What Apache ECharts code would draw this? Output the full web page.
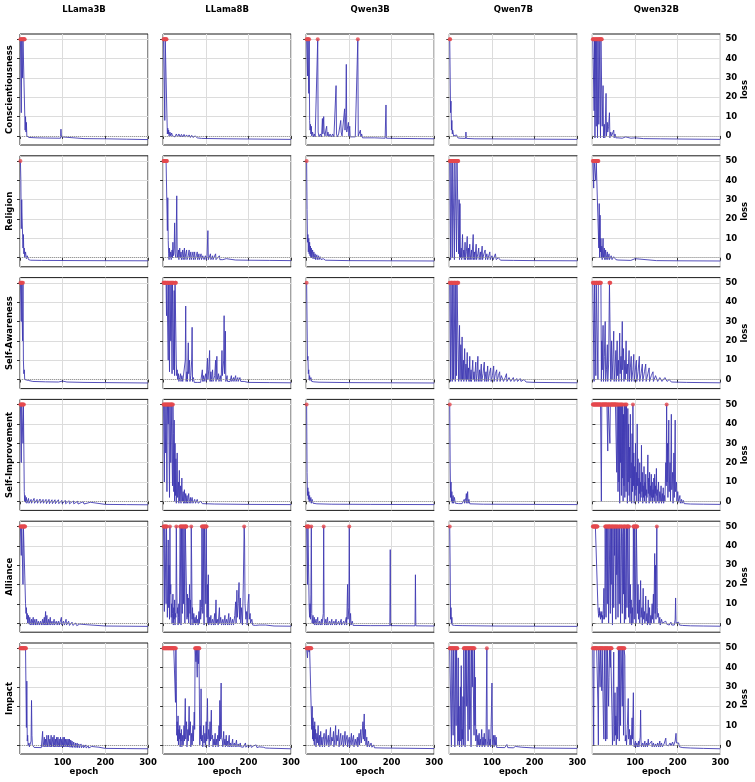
<!DOCTYPE html>
<html><head><meta charset="utf-8">
<script src="https://cdn.jsdelivr.net/npm/echarts@6/dist/echarts.min.js"></script>
<style>html,body{margin:0;padding:0;background:#fff}#c{width:755px;height:782px}</style>
</head><body><div id="c"></div>
<script>
const models = ['LLama3B','LLama8B','Qwen3B','Qwen7B','Qwen32B'];
const traits = ['Conscientiousness','Religion','Self-Awareness','Self-Improvement','Alliance','Impact'];
const yTicks = [0,10,20,30,40,50];
const CLIP = 50;

// ---- Conscientiousness ----
const consc_llama3b = [[1,50],[2,50],[3,12],[4,50],[5,50],[6,30],[7,50],[8,50],[9,50],[10,50],[11,50],[12,3],[13,10],[14,2],[15,7],[16,0],[18,-0.5],[21,-0.8],[40,-1],[60,-1.1],[95,-1.2],[96,3.5],[97,-0.5],[98,-1.2],[150,-1.4],[200,-1.5],[250,-1.7],[300,-1.9]];
const consc_llama8b = [[1,50],[2,50],[3,50],[4,8],[5,50],[6,50],[7,50],[8,50],[9,10],[10,1],[11,4],[12,1],[13,3],[14,0],[16,2],[18,0],[20,1.5],[22,0],[25,1],[28,-0.5],[31,1],[34,-0.5],[37,1],[40,-0.5],[43,0.8],[46,-0.5],[49,0.8],[52,-0.6],[55,0.5],[58,-0.6],[61,0.5],[64,-0.8],[67,0.3],[70,-0.8],[75,0],[80,-1],[90,-1.3],[150,-1.5],[300,-1.8]];
const consc_qwen3b = [[1,50],[2,50],[3,31],[4,50],[5,50],[6,22],[7,50],[8,8],[9,3],[10,6],[11,1],[12,5],[13,0],[15,2],[17,-0.5],[19,1],[21,-0.5],[23,0],[25,-0.5],[27,50],[28,2],[30,-0.5],[33,1],[36,-0.5],[38,9],[39,1],[41,10],[42,2],[44,0],[46,3],[48,5],[49,0],[51,2],[53,-0.5],[56,1],[59,-0.5],[62,1],[65,-0.5],[68,0],[70,26],[71,1],[73,-0.5],[76,1],[79,0],[81,8],[82,2],[84,0],[86,1],[88,0],[90,14],[91,3],[93,12],[94,37],[95,2],[97,1],[99,7],[100,0],[102,5],[103,-0.5],[106,0],[110,-0.5],[115,-0.5],[121,50],[122,0],[124,-0.5],[127,3],[128,-0.5],[130,1],[132,-1],[140,-1],[160,-1],[185,-1.2],[187,16],[188,-1.2],[220,-1.3],[260,-1.4],[300,-1.5]];
const consc_qwen7b = [[1,50],[2,50],[3,12],[4,18],[5,3],[6,8],[7,1],[8,3],[10,0],[12,1],[14,-0.5],[17,0.5],[20,-1],[25,-1.2],[38,-1.3],[39,2],[40,-1.3],[60,-1.5],[150,-1.6],[300,-1.8]];
const consc_qwen32b = [[1,50],[2,50],[3,50],[4,13],[5,50],[6,-1],[7,50],[8,50],[9,5],[10,50],[11,50],[12,-1],[13,50],[14,50],[15,6],[16,50],[17,50],[18,50],[19,-1],[20,50],[21,50],[22,50],[23,5],[24,6],[25,26],[26,-1],[27,2],[28,6],[29,-1],[30,3],[32,22],[33,0],[35,7],[36,2],[38,5],[40,12],[41,-1],[43,2],[45,0],[48,-0.5],[50,3],[51,-1],[53,1],[55,-1],[60,-1],[70,-1.2],[78,-0.5],[80,0],[82,-1],[90,-1.2],[100,-1],[120,-1.4],[160,-1.5],[200,-1.6],[300,-1.8]];

// ---- Religion ----
const relig_llama3b = [[1,50],[2,40],[3,15],[4,30],[5,20],[6,21],[7,5],[8,12],[9,2],[10,5],[11,0],[13,3],[15,-0.5],[17,1],[20,-1],[25,-1.3],[50,-1.4],[150,-1.5],[300,-1.6]];
const relig_llama8b = [[1,50],[2,50],[3,50],[4,50],[5,50],[6,50],[7,50],[8,50],[9,50],[10,14],[11,31],[12,9],[13,2],[14,-1],[15,5],[16,0],[18,3],[19,-1],[21,4],[22,0],[23,8],[24,1],[26,5],[27,18],[28,2],[30,0],[32,32],[33,3],[34,0],[36,4],[37,-1],[39,5],[40,0],[42,3],[43,-1],[46,4],[47,-1],[50,5],[51,-1],[53,2],[55,4],[56,-1],[59,1],[61,4],[62,-1],[65,3],[66,-1],[68,1],[70,3],[71,-1],[74,3],[75,-1],[78,1],[80,3],[81,-1],[84,2],[85,-1],[89,2],[90,-1],[93,1],[95,2],[96,-1],[99,1],[101,-1],[103,1],[105,14],[106,-1],[108,0],[111,2],[112,-1],[116,1],[117,-1],[121,0],[123,2],[124,-1],[128,0],[132,1],[133,-1],[137,0],[140,-1],[148,-0.5],[150,-1],[170,-1.2],[200,-1.3],[250,-1.4],[300,-1.5]];
const relig_qwen3b = [[1,50],[2,25],[3,8],[4,12],[5,3],[6,10],[7,2],[8,8],[9,1],[10,6],[11,0],[12,5],[13,0],[15,4],[16,-0.5],[18,3],[19,-0.5],[21,2],[22,-1],[25,1.5],[26,-1],[29,1],[30,-1],[33,0.5],[35,-1],[40,-0.5],[45,-1.3],[100,-1.5],[200,-1.6],[300,-1.7]];
const relig_qwen7b = [[1,50],[2,50],[3,-1],[4,50],[5,50],[6,50],[7,0],[8,50],[9,50],[10,50],[11,50],[12,-1],[13,50],[14,50],[15,50],[16,50],[17,3],[18,50],[19,50],[20,50],[21,50],[22,2],[23,30],[24,-1],[25,28],[26,0],[28,5],[29,-1],[31,12],[32,0],[34,4],[35,-1],[37,8],[38,-1],[40,3],[42,11],[43,-1],[45,5],[46,-1],[48,7],[49,-1],[52,4],[53,-1],[56,12],[57,-1],[59,3],[60,-1],[63,7],[64,-1],[67,2],[69,5],[70,-1],[73,3],[74,-1],[77,6],[78,-1],[81,2],[84,4],[85,-1],[88,2],[90,-1],[95,3],[96,-1],[100,1],[103,-1],[108,2],[110,-1],[115,0],[120,-1.3],[150,-1.4],[200,-1.5],[300,-1.6]];
const relig_qwen32b = [[1,50],[2,50],[3,36],[4,50],[5,50],[6,50],[7,50],[8,40],[9,50],[10,50],[11,50],[12,50],[13,50],[14,50],[15,5],[16,28],[17,0],[18,22],[19,3],[20,10],[21,0],[22,6],[23,-1],[25,10],[26,0],[28,5],[29,-1],[31,4],[32,-1],[35,3],[36,-1],[39,2],[40,-1],[44,1],[46,-1],[50,0.5],[55,-1],[60,-1.2],[90,-1.4],[100,-0.5],[102,-1.4],[150,-1.5],[200,-1.6],[300,-1.7]];

// ---- Self-Awareness ----
const aware_llama3b = [[1,50],[2,50],[3,30],[4,50],[5,50],[6,20],[7,50],[8,10],[9,3],[10,5],[11,0],[13,1],[15,-0.5],[20,-0.5],[30,-1],[60,-1.2],[90,-1.3],[100,-0.8],[110,-1.3],[150,-1.5],[200,-1.6],[300,-1.8]];
const aware_llama8b = [[1,50],[2,50],[3,50],[4,50],[5,50],[6,50],[7,50],[8,33],[9,50],[10,50],[11,50],[12,10],[13,50],[14,50],[15,4],[16,50],[17,50],[18,20],[19,50],[20,50],[21,3],[22,50],[23,50],[24,50],[25,5],[26,46],[27,2],[28,50],[29,50],[30,50],[31,8],[32,2],[33,5],[34,0],[36,3],[37,-1],[39,1],[41,3],[42,-1],[44,2],[46,-1],[48,0],[50,-1],[52,10],[53,38],[54,-1],[56,4],[57,-1],[59,19],[60,3],[62,10],[63,-1],[65,2],[67,10],[68,27],[69,-1],[71,1],[73,-1.5],[80,-1.5],[88,-1.5],[92,5],[93,-1],[95,2],[96,-1],[100,3],[101,-1],[104,11],[105,0],[107,5],[109,15],[110,-1],[112,4],[113,-1],[116,5],[117,-1],[121,2],[123,10],[124,-1],[126,12],[127,0],[130,3],[131,-1],[134,2],[136,-1],[138,15],[139,2],[142,10],[143,33],[144,3],[146,25],[147,-1],[150,2],[151,-1],[154,0],[157,-1],[160,2],[161,-1],[165,1],[166,-1],[170,2],[171,-1],[175,1],[176,-1],[180,1],[182,-1],[186,0],[190,-1],[200,-1.5],[250,-1.6],[300,-1.7]];
const aware_qwen3b = [[1,50],[2,30],[3,10],[4,12],[5,3],[6,5],[7,0],[8,2],[9,-0.5],[11,1],[13,-1],[15,0],[18,-1.2],[30,-1.4],[100,-1.6],[200,-1.7],[300,-1.8]];
const aware_qwen7b = [[1,50],[2,50],[3,-1],[4,50],[5,50],[6,50],[7,-1],[8,50],[9,50],[10,0],[11,50],[12,50],[13,50],[14,-1],[15,50],[16,50],[17,2],[18,50],[19,50],[20,50],[21,50],[22,-1],[24,28],[25,0],[27,18],[28,-1],[30,22],[31,0],[33,10],[34,-1],[36,16],[37,0],[39,8],[40,-1],[42,14],[43,0],[45,6],[46,-1],[48,12],[49,-1],[51,5],[52,-1],[55,10],[56,0],[58,4],[59,-1],[62,9],[63,-1],[65,3],[67,12],[68,-1],[71,5],[72,-1],[75,8],[76,-1],[79,3],[82,9],[83,-1],[86,4],[87,-1],[90,7],[91,-1],[94,3],[97,6],[98,-1],[101,2],[104,7],[105,-1],[108,3],[111,5],[112,-1],[115,2],[118,4],[119,-1],[122,2],[126,3],[127,-1],[131,1],[134,3],[135,-1],[140,1],[143,2],[144,-1],[150,1],[152,-1],[158,0.5],[160,-1],[166,0.5],[168,-1],[175,0],[180,-1.3],[200,-1.5],[250,-1.6],[300,-1.7]];
const aware_qwen32b = [[1,50],[2,50],[3,50],[4,-1],[5,50],[6,50],[7,50],[8,2],[9,50],[10,50],[11,50],[12,50],[13,0],[14,50],[15,50],[16,50],[17,50],[18,50],[19,50],[20,50],[21,-1],[22,20],[23,5],[25,28],[26,-1],[28,12],[30,30],[31,-1],[33,5],[35,18],[36,-1],[38,8],[40,50],[41,50],[42,50],[43,-1],[45,20],[46,0],[48,10],[50,25],[51,-1],[53,6],[55,15],[56,-1],[58,20],[59,2],[61,10],[62,-1],[64,24],[65,3],[67,12],[68,-1],[70,30],[71,5],[73,16],[74,-1],[76,10],[77,0],[79,20],[80,3],[82,8],[83,-1],[86,15],[87,-1],[89,6],[91,12],[92,-1],[95,5],[97,13],[98,-1],[101,6],[103,10],[104,-1],[107,4],[110,12],[111,-1],[114,3],[117,8],[118,-1],[122,4],[125,8],[126,-1],[130,3],[133,6],[134,-1],[138,2],[142,4],[143,-1],[148,2],[152,3],[153,-1],[158,1],[162,2],[163,-1],[170,1],[175,-1],[180,0],[185,-1.3],[220,-1.5],[300,-1.7]];

// ---- Self-Improvement ----
const improv_llama3b = [[1,50],[2,50],[3,20],[4,50],[5,50],[6,50],[7,30],[8,50],[9,50],[10,5],[11,0],[12,3],[13,-0.5],[15,2],[16,-1],[20,1.5],[21,-1],[26,1],[27,-1],[33,1.5],[34,-1],[40,1],[41,-1],[47,1.2],[48,-1],[54,1],[55,-1],[61,1],[62,-1.2],[68,1],[69,-1.2],[75,0.8],[76,-1.2],[82,0.8],[83,-1.2],[90,0.8],[91,-1.2],[98,0.5],[99,-1.3],[106,0.5],[107,-1.3],[115,0.3],[116,-1.3],[125,0.2],[126,-1.3],[135,0],[136,-1.4],[148,-0.2],[150,-1.4],[165,-0.5],[167,-1.5],[200,-1.6],[250,-1.7],[300,-1.8]];
const improv_llama8b = [[1,50],[2,50],[3,10],[4,50],[5,50],[6,25],[7,50],[8,50],[9,5],[10,50],[11,50],[12,40],[13,50],[14,50],[15,2],[16,50],[17,50],[18,20],[19,50],[20,50],[21,50],[22,8],[23,50],[24,35],[25,5],[26,42],[27,0],[28,30],[29,3],[30,22],[31,-1],[33,25],[34,2],[36,10],[37,-1],[38,16],[39,0],[41,8],[42,-1],[44,12],[45,0],[47,5],[48,-1],[50,6],[51,-1],[53,4],[54,-1],[56,3],[57,-1],[60,4],[61,-1],[64,2],[65,-1],[68,2],[70,-1],[74,1],[76,-1],[80,1],[82,-1],[88,0],[92,-1.2],[120,-1.4],[200,-1.6],[300,-1.7]];
const improv_qwen3b = [[1,50],[2,15],[3,3],[4,7],[5,1],[6,5],[7,0],[8,3],[9,-0.5],[11,2],[12,-1],[14,1],[16,-1],[20,-0.5],[25,-1.3],[60,-1.5],[150,-1.6],[300,-1.7]];
const improv_qwen7b = [[1,50],[2,20],[3,2],[4,10],[5,0],[6,5],[7,-1],[9,3],[10,-1],[12,2],[14,-1],[18,0],[22,-1.2],[30,-1.2],[35,1],[36,-1],[39,2],[40,4],[41,-1],[43,5],[44,-1],[46,1],[48,-1.3],[80,-1.5],[200,-1.6],[300,-1.7]];
const improv_qwen32b = [[1,50],[2,50],[3,50],[4,50],[5,50],[6,50],[7,50],[8,50],[9,50],[10,50],[11,50],[12,50],[13,50],[14,50],[15,50],[16,50],[17,50],[18,50],[19,50],[20,50],[21,0],[22,50],[23,50],[24,50],[25,50],[26,50],[27,50],[28,50],[29,50],[30,50],[31,50],[32,50],[33,50],[34,50],[35,50],[36,26],[37,50],[38,50],[39,50],[40,50],[41,30],[42,50],[43,50],[44,50],[45,50],[46,50],[47,50],[48,50],[49,50],[50,50],[51,50],[52,50],[53,50],[54,50],[55,50],[56,50],[57,15],[58,50],[59,50],[60,5],[61,50],[62,10],[63,50],[64,-1],[65,50],[66,20],[67,50],[68,3],[69,50],[70,12],[71,50],[72,0],[73,45],[74,8],[75,50],[76,2],[77,30],[78,50],[79,5],[80,50],[81,15],[82,-1],[83,48],[84,10],[85,40],[86,3],[87,28],[88,0],[89,45],[90,12],[91,20],[92,-1],[93,35],[94,5],[95,50],[96,8],[97,25],[98,-1],[99,18],[100,3],[101,30],[102,6],[103,15],[104,0],[105,40],[106,8],[107,22],[108,-1],[109,12],[110,4],[111,20],[112,0],[113,10],[114,2],[115,29],[116,5],[117,15],[118,-1],[119,8],[120,2],[121,18],[122,0],[123,10],[124,3],[125,14],[126,-1],[127,6],[128,2],[130,24],[131,4],[132,12],[133,-1],[134,15],[135,3],[136,8],[137,0],[138,14],[139,2],[140,10],[141,-1],[142,6],[143,2],[144,12],[145,0],[146,14],[147,4],[148,8],[149,-1],[150,17],[151,3],[152,6],[153,0],[155,10],[156,-1],[158,5],[159,0],[161,8],[162,-1],[164,4],[165,0],[166,7],[167,-1],[169,3],[170,0],[172,20],[173,8],[174,50],[175,10],[176,30],[177,2],[179,42],[180,5],[182,20],[183,0],[185,45],[186,6],[188,15],[189,-1],[191,25],[192,2],[194,42],[195,5],[197,10],[198,0],[200,5],[202,-0.5],[205,3],[206,-1],[209,1],[210,-1],[213,0.5],[215,-1.2],[230,-1.4],[260,-1.5],[300,-1.6]];

// ---- Alliance ----
const alli_llama3b = [[1,50],[2,50],[3,35],[4,50],[5,50],[6,50],[7,20],[8,50],[9,50],[10,50],[11,50],[12,50],[13,10],[14,5],[15,8],[16,2],[17,5],[18,0],[20,4],[21,-0.5],[23,3],[24,-1],[27,2],[28,-1],[31,3],[32,-1],[35,2],[36,-1],[39,2],[40,-1],[43,1],[45,-1],[48,1],[50,-1],[53,2],[54,-1],[57,3],[58,-1],[60,6],[61,-1],[63,4],[64,-1],[67,2],[68,-1],[71,3],[72,-1],[75,1],[77,-1],[80,2],[81,-1],[85,1],[87,-1],[90,1],[92,-1],[97,3],[98,-1],[102,1],[104,-1],[108,2],[109,-1],[114,1],[116,-1.2],[122,0.5],[124,-1.2],[130,0],[133,-1.3],[140,-0.5],[143,-1.3],[155,-0.8],[158,-1.4],[200,-1.5],[300,-1.7]];
const alli_llama8b = [[1,50],[2,50],[3,6],[4,50],[5,50],[6,50],[7,10],[8,50],[9,50],[10,3],[11,20],[12,43],[13,8],[14,30],[15,2],[16,50],[17,15],[18,20],[19,3],[20,10],[21,0],[22,5],[23,15],[24,-1],[25,8],[26,2],[27,12],[28,-1],[29,5],[30,3],[31,50],[32,20],[33,5],[34,8],[35,-1],[36,3],[37,10],[38,0],[40,50],[41,50],[42,-1],[43,50],[44,50],[45,5],[46,50],[47,50],[48,10],[49,50],[50,50],[51,0],[52,50],[53,50],[54,50],[55,50],[56,2],[57,15],[58,3],[59,13],[60,0],[62,20],[63,5],[64,12],[65,-1],[66,50],[67,30],[68,2],[69,8],[70,-1],[72,5],[73,0],[75,3],[76,-1],[78,4],[79,0],[81,2],[82,-1],[84,6],[85,0],[87,12],[88,2],[90,8],[91,50],[92,50],[93,5],[94,50],[95,50],[96,-1],[97,50],[98,50],[99,50],[100,10],[101,50],[102,50],[103,3],[104,20],[105,0],[106,25],[107,-1],[109,3],[110,0],[112,4],[113,-1],[116,2],[118,-1],[121,5],[122,-1],[124,12],[125,0],[127,2],[129,-1],[132,8],[133,0],[135,3],[137,-1],[140,2],[142,-1],[145,4],[146,-1],[149,2],[151,-1],[154,5],[155,-1],[158,3],[160,-1],[163,2],[165,-1],[168,4],[170,11],[171,0],[173,17],[174,3],[176,10],[178,21],[179,2],[181,13],[182,0],[184,8],[186,-1],[188,20],[190,50],[191,43],[192,10],[194,2],[196,6],[197,-1],[199,10],[201,15],[202,2],[204,5],[205,0],[208,2],[210,-1],[213,0],[216,-1.2],[225,-1],[228,-1.3],[240,-1],[243,-1.4],[260,-1.5],[300,-1.6]];
const alli_qwen3b = [[1,50],[2,50],[3,20],[4,50],[5,50],[6,50],[7,8],[8,3],[9,10],[10,2],[11,15],[12,50],[13,5],[14,0],[16,4],[17,-0.5],[19,3],[20,-1],[23,2],[24,-1],[27,3],[28,-1],[31,1],[33,-1],[36,2],[37,-1],[40,5],[41,50],[42,3],[43,-1],[46,2],[47,-1],[50,3],[51,-1],[55,1],[57,-1],[60,2],[61,-1],[65,1],[67,-1],[70,2],[71,-1],[76,1],[78,-1],[82,2],[83,-1],[88,1],[90,-1],[94,3],[95,-1],[97,20],[98,2],[100,8],[101,50],[102,0],[104,5],[105,-1],[108,1],[110,-1.2],[150,-1.3],[196,-1.3],[197,38],[198,-1.3],[255,-1.4],[256,25],[257,-1.4],[300,-1.5]];
const alli_qwen7b = [[1,50],[2,30],[3,2],[4,8],[5,-0.5],[6,3],[7,-1],[9,0],[12,-1.2],[30,-1.3],[100,-1.5],[200,-1.6],[300,-1.7]];
const alli_qwen32b = [[1,50],[2,50],[3,50],[4,50],[5,50],[6,50],[7,50],[8,50],[9,50],[10,50],[11,50],[12,50],[13,8],[14,5],[15,3],[16,8],[17,4],[18,6],[19,2],[20,5],[21,3],[22,6],[23,0],[24,4],[25,2],[26,10],[27,18],[28,2],[29,5],[30,50],[31,50],[32,3],[33,50],[34,50],[35,10],[36,50],[37,50],[38,0],[39,50],[40,50],[41,50],[42,5],[43,50],[44,20],[45,50],[46,50],[47,-1],[48,50],[49,50],[50,8],[51,50],[52,35],[53,50],[54,50],[55,2],[56,50],[57,25],[58,50],[59,50],[60,3],[61,30],[62,50],[63,10],[64,50],[65,50],[66,0],[67,40],[68,50],[69,50],[70,5],[71,45],[72,50],[73,15],[74,50],[75,0],[76,50],[77,50],[78,2],[79,30],[80,50],[81,8],[82,50],[83,50],[84,50],[85,3],[86,50],[87,10],[88,0],[89,20],[90,5],[91,12],[92,-1],[94,8],[95,0],[96,50],[97,50],[98,2],[99,50],[100,50],[101,50],[102,0],[103,50],[104,50],[105,50],[106,5],[107,20],[108,2],[110,12],[111,0],[113,22],[114,3],[116,8],[117,-1],[119,18],[120,2],[122,6],[123,0],[125,14],[126,1],[128,5],[129,-1],[131,12],[132,0],[134,8],[135,-1],[137,4],[138,0],[140,10],[141,2],[143,15],[144,0],[146,36],[147,5],[148,30],[149,2],[151,50],[152,8],[153,3],[155,5],[156,0],[158,3],[159,-1],[162,2],[164,0],[166,1],[168,-0.5],[172,1],[174,-0.5],[178,0.5],[180,-1],[184,0.5],[186,-1],[190,0],[192,-1],[194,2],[195,13],[196,0],[198,-1],[202,0.5],[204,-1],[208,0],[211,-1.2],[230,-1.4],[260,-1.5],[300,-1.6]];

// ---- Impact ----
const impact_llama3b = [[1,50],[2,50],[3,50],[4,50],[5,50],[6,50],[7,50],[8,50],[9,50],[10,50],[11,50],[12,50],[13,50],[14,50],[15,9],[16,33],[17,2],[18,5],[19,-0.5],[21,1],[22,-1],[24,0],[26,2],[27,23],[28,5],[29,0],[30,-1],[33,-1.3],[50,-1.4],[52,-1],[53,7],[54,-1],[56,2],[57,4],[58,-1],[60,3],[61,-1],[63,5],[64,-1],[66,2],[67,5],[68,-1],[70,3],[71,-1],[73,5],[74,-1],[76,2],[77,4],[78,-1],[80,5],[81,-1],[83,3],[84,-1],[86,4],[87,-1],[89,4],[90,-1],[92,3],[93,-1],[95,4],[96,-1],[98,3],[99,-1],[101,4],[102,-1],[104,4],[105,-1],[107,3],[108,-1],[110,3],[111,-1],[113,3],[114,-1],[116,3],[117,-1.2],[119,2.5],[120,-1.2],[122,2],[123,-1.3],[126,1.5],[127,-1.3],[130,1],[131,-1.4],[134,1],[135,-1.4],[138,0.5],[139,-1.5],[143,0.5],[144,-1.5],[148,0],[149,-1.5],[154,0],[155,-1.6],[160,-0.5],[161,-1.6],[168,-0.8],[169,-1.7],[176,-1],[177,-1.7],[185,-1.2],[186,-1.8],[200,-1.8],[250,-1.9],[300,-2]];
const impact_llama8b = [[1,50],[2,50],[3,50],[4,50],[5,50],[6,50],[7,50],[8,50],[9,50],[10,50],[11,50],[12,50],[13,50],[14,50],[15,50],[16,50],[17,50],[18,50],[19,50],[20,50],[21,50],[22,50],[23,50],[24,50],[25,50],[26,50],[27,50],[28,50],[29,22],[30,50],[31,33],[32,5],[33,12],[34,2],[35,15],[36,0],[37,8],[38,3],[39,10],[40,-1],[41,6],[42,2],[43,8],[44,-1],[46,5],[47,0],[49,10],[50,2],[52,24],[53,3],[55,12],[56,-1],[58,8],[59,2],[61,20],[62,5],[64,12],[65,-1],[67,6],[68,0],[70,10],[71,2],[73,17],[74,8],[75,50],[76,50],[77,43],[78,50],[79,50],[80,35],[81,50],[82,50],[83,42],[84,50],[85,50],[86,0],[87,10],[88,3],[89,29],[90,2],[92,5],[93,-1],[95,10],[96,1],[98,6],[99,-1],[101,12],[102,2],[104,24],[105,3],[107,8],[108,-1],[110,12],[111,2],[113,18],[114,3],[116,5],[117,-1],[119,3],[120,0],[122,6],[123,-1],[125,3],[126,0],[128,5],[129,-1],[131,10],[132,2],[133,23],[134,3],[136,32],[137,4],[139,2],[140,-1],[142,7],[143,0],[145,3],[146,-1],[148,5],[149,-0.5],[151,2],[152,-1],[155,5],[156,-1],[158,1],[160,-1],[163,3],[164,-1],[167,1],[169,-1],[172,2.5],[173,-1],[176,0.5],[178,-1],[181,1],[182,-1],[186,0],[188,-1.2],[193,1],[194,-1.2],[198,0],[200,-1.2],[205,0],[207,-1.3],[212,-0.5],[214,-1.4],[218,0],[220,-1.4],[225,-1],[228,-1.5],[235,-1.2],[240,-1.6],[250,-1.7],[300,-2]];
const impact_qwen3b = [[1,50],[2,50],[3,45],[4,50],[5,50],[6,50],[7,48],[8,50],[9,50],[10,50],[11,50],[12,50],[13,8],[14,20],[15,3],[16,14],[17,2],[18,10],[19,0],[20,12],[21,3],[22,8],[23,-1],[25,6],[26,1],[28,10],[29,0],[31,5],[32,-1],[34,7],[35,0],[37,4],[38,-1],[40,3],[42,6],[43,-1],[45,3],[47,8],[48,0],[50,2],[52,5],[53,-1],[55,3],[57,9],[58,0],[60,4],[62,2],[64,7],[65,-1],[67,3],[69,10],[70,0],[72,5],[74,2],[76,8],[77,-1],[79,3],[81,6],[82,0],[84,2],[86,5],[87,-1],[89,2],[91,7],[92,0],[94,3],[96,5],[97,-1],[99,2],[101,4],[102,-1],[104,2],[106,6],[107,0],[109,3],[111,5],[112,-1],[115,3],[117,0],[120,4],[121,-1],[124,6],[125,0],[128,8],[129,1],[131,5],[133,12],[134,3],[136,16],[137,2],[139,8],[140,0],[142,4],[143,-1],[146,2],[148,-1],[152,1],[154,-1.2],[158,0],[160,-1.5],[180,-1.6],[220,-1.7],[300,-1.9]];
const impact_qwen7b = [[1,50],[2,50],[3,50],[4,50],[5,-1],[6,50],[7,50],[8,50],[9,5],[10,50],[11,50],[12,50],[13,-1],[14,50],[15,50],[16,10],[17,50],[18,50],[19,50],[20,0],[21,45],[22,2],[23,20],[24,-1],[25,10],[26,30],[27,2],[28,41],[29,-1],[30,8],[31,3],[32,25],[33,0],[34,50],[35,50],[36,50],[37,-1],[38,50],[39,50],[40,20],[41,50],[42,50],[43,50],[44,2],[45,50],[46,50],[47,8],[48,50],[49,50],[50,50],[51,-1],[52,50],[53,50],[54,30],[55,50],[56,50],[57,50],[58,5],[59,50],[60,10],[61,35],[62,2],[64,8],[65,-1],[67,5],[68,0],[70,6],[71,-1],[73,3],[74,0],[76,8],[77,-1],[79,4],[80,0],[82,6],[83,-1],[85,3],[86,0],[88,50],[89,2],[91,-1],[93,8],[94,0],[96,3],[97,-1],[99,20],[100,32],[101,3],[102,0],[104,5],[105,-1],[107,5],[108,0],[110,4],[111,-1.3],[115,-1.3],[130,-1.4],[133,-0.5],[135,0.2],[137,-1.4],[150,-1.5],[155,-0.8],[157,-1.5],[170,-1.2],[172,-1.6],[200,-1.6],[250,-1.7],[300,-1.8]];
const impact_qwen32b = [[1,50],[2,50],[3,0],[4,50],[5,50],[6,50],[7,50],[8,50],[9,50],[10,50],[11,50],[12,50],[13,20],[14,0],[15,50],[16,50],[17,50],[18,30],[19,50],[20,50],[21,50],[22,28],[23,50],[24,50],[25,50],[26,10],[27,3],[28,50],[29,50],[30,50],[31,2],[32,50],[33,50],[34,3],[35,50],[36,50],[37,50],[38,20],[39,35],[40,50],[41,50],[42,40],[43,50],[44,50],[45,50],[46,15],[47,0],[48,5],[49,30],[50,48],[51,2],[52,10],[53,27],[54,5],[55,15],[56,0],[58,30],[59,3],[60,12],[61,50],[62,50],[63,2],[64,50],[65,50],[66,10],[67,50],[68,50],[69,50],[70,20],[71,50],[72,50],[73,5],[74,50],[75,50],[76,46],[77,2],[79,5],[80,0],[82,10],[84,24],[85,3],[87,8],[88,0],[90,5],[91,0],[93,14],[94,3],[96,27],[97,1],[98,-1],[101,2],[102,-1],[104,1],[106,-1],[108,2],[109,-1],[112,4],[113,18],[114,2],[115,-1],[118,1],[120,-1],[123,2],[124,-1],[127,1],[129,-1],[131,3],[132,0],[134,1],[136,-1],[139,2],[140,-1],[143,1],[145,-1],[148,0.5],[150,-1],[153,1],[155,-1],[158,2],[159,-1],[162,1],[164,-1],[168,0.5],[170,-0.5],[172,3.5],[173,0],[176,1],[178,-0.5],[182,1],[184,-0.5],[188,1.5],[190,-0.5],[194,2],[196,6],[197,1],[199,0],[202,1],[204,-1],[208,-1],[212,-1.4],[230,-1.6],[260,-1.8],[300,-2]];

const panels = [
  [consc_llama3b, consc_llama8b, consc_qwen3b, consc_qwen7b, consc_qwen32b],
  [relig_llama3b, relig_llama8b, relig_qwen3b, relig_qwen7b, relig_qwen32b],
  [aware_llama3b, aware_llama8b, aware_qwen3b, aware_qwen7b, aware_qwen32b],
  [improv_llama3b, improv_llama8b, improv_qwen3b, improv_qwen7b, improv_qwen32b],
  [alli_llama3b, alli_llama8b, alli_qwen3b, alli_qwen7b, alli_qwen32b],
  [impact_llama3b, impact_llama8b, impact_qwen3b, impact_qwen7b, impact_qwen32b]
];

const chart = echarts.init(document.getElementById('c'), null, {renderer: 'canvas'});
const FONT_FAMILY = 'DejaVu Sans';
const FONT = 'bold 8.5px "DejaVu Sans"';
const LINE_COLOR = 'rgba(62,56,178,0.88)';
const grids = [], xAxes = [], yAxes = [], series = [], graphics = [];
const L0 = 20, DX = 143.1, W = 128, T0 = 34, DY = 121.8, H = 111;

traits.forEach((trait, r) => {
  models.forEach((model, c) => {
    const i = r * models.length + c;
    const left = L0 + c * DX, top = T0 + r * DY;
    const lastRow = r === traits.length - 1, lastCol = c === models.length - 1;
    grids.push({left: left, top: top, width: W, height: H, show: true, borderColor: '#1a1a1a', borderWidth: 1, backgroundColor: 'transparent'});
    xAxes.push({
      type: 'value', gridIndex: i, min: 0, max: 300, interval: 100,
      axisLine: {show: false},
      axisTick: {show: true, length: 3, lineStyle: {color: '#333'}},
      splitLine: {show: true, lineStyle: {color: '#dcdcdc', width: 1}},
      axisLabel: {show: lastRow, showMinLabel: false, margin: 4, fontFamily: FONT_FAMILY, fontWeight: 'bold', fontSize: 8.5, color: '#000'}
    });
    yAxes.push({
      type: 'value', gridIndex: i, min: -4.7, max: 52.7,
      position: lastCol ? 'right' : 'left',
      axisLine: {show: false},
      axisTick: {show: true, length: 3, lineStyle: {color: '#333'}, customValues: yTicks},
      splitLine: {show: true, lineStyle: {color: '#dcdcdc', width: 1}},
      axisLabel: {show: lastCol, customValues: yTicks, margin: 5, fontFamily: FONT_FAMILY, fontWeight: 'bold', fontSize: 8.5, color: '#000'}
    });
    const d = panels[r][c];
    series.push({
      type: 'line', xAxisIndex: i, yAxisIndex: i, data: d,
      symbol: 'none', showSymbol: false, animation: false, silent: true,
      lineStyle: {color: LINE_COLOR, width: 1},
      markLine: {silent: true, symbol: ['none', 'none'], animation: false, label: {show: false},
        lineStyle: {type: 'dotted', color: '#999', width: 1}, data: [{yAxis: 0}]},
      z: 2
    });
    series.push({
      type: 'scatter', xAxisIndex: i, yAxisIndex: i,
      data: d.filter(p => p[1] >= CLIP),
      symbol: 'circle', symbolSize: 4, itemStyle: {color: '#e5484d'},
      animation: false, silent: true, z: 3
    });
    if (r === 0) {
      graphics.push({type: 'text', x: left + W / 2, y: 10, style: {text: model, font: FONT, fill: '#000', textAlign: 'center', textVerticalAlign: 'middle'}});
    }
    if (lastRow) {
      graphics.push({type: 'text', x: left + W / 2, y: 772, style: {text: 'epoch', font: FONT, fill: '#000', textAlign: 'center', textVerticalAlign: 'middle'}});
    }
    if (c === 0) {
      graphics.push({type: 'text', x: 10, y: top + H / 2, rotation: Math.PI / 2, style: {text: trait, font: FONT, fill: '#000', textAlign: 'center', textVerticalAlign: 'middle'}});
    }
    if (lastCol) {
      graphics.push({type: 'text', x: 745, y: top + H / 2, rotation: Math.PI / 2, style: {text: 'loss', font: FONT, fill: '#000', textAlign: 'center', textVerticalAlign: 'middle'}});
    }
  });
});

chart.setOption({
  animation: false,
  backgroundColor: '#fff',
  grid: grids, xAxis: xAxes, yAxis: yAxes, series: series,
  graphic: graphics
});
</script>
</body></html>
